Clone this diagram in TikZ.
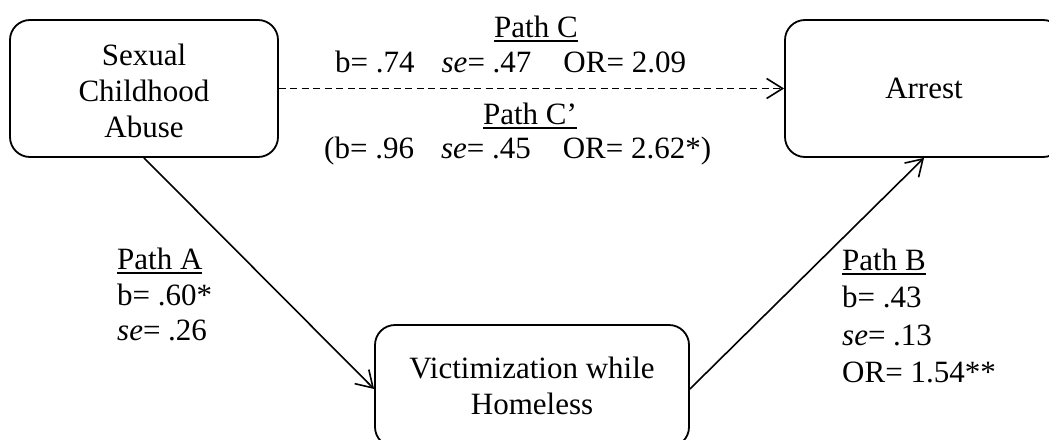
\documentclass[tikz,border=0pt]{standalone}
\usepackage{fontspec}
\setmainfont{Liberation Serif}
\usetikzlibrary{arrows.meta}
\newcommand\pathul[1]{\setbox0\hbox{#1}\rlap{\rule[-5pt]{\wd0}{1.6pt}}\box0}
\begin{document}
\begin{tikzpicture}[x=1pt,y=-1pt,
  every node/.style={font=\fontsize{31}{36}\selectfont, inner sep=0pt},
  varbox/.style={draw, line width=1.8pt, rounded corners=20pt, align=center},
  link/.style={line width=1.6pt, -{Straight Barb[length=16pt,width=20pt,line width=1.6pt]}},
  lbl/.style={anchor=base west}]
\useasboundingbox (0,0) rectangle (1049,439);
\clip (0,0) rectangle (1049,439);
\node[varbox, minimum width=268pt, minimum height=137pt] (sca) at (144,88.5) {\rule{0pt}{27pt}Sexual\\Childhood\\Abuse};
\node[varbox, minimum width=278pt, minimum height=137pt] (arr) at (924,88.5) {Arrest};
\node[varbox, minimum width=314pt, minimum height=122pt] (vic) at (532,386) {Victimization while\\Homeless};
\draw[link, dash pattern=on 7pt off 4.5pt] (sca.east) -- (arr.west);
\draw[link] (sca.south) -- ([yshift=-3pt]vic.west);
\draw[link] ([yshift=-3pt]vic.east) -- (arr.south);
\node[anchor=base] (pc) at (536,37) {\pathul{Path C}};
\node[lbl] (pcv) at (335,72) {b= .74\hspace{27pt}\textit{se}= .47\hspace{32pt}OR= 2.09};
\node[anchor=base] (pcp) at (530,124) {\pathul{Path C’}};
\node[lbl] (pcpv) at (324,158) {(b= .96\hspace{27pt}\textit{se}= .45\hspace{32pt}OR= 2.62*)};
\node[lbl] (pa) at (117,269) {\pathul{Path A}};
\node[lbl] (pab) at (117,305) {b= .60*};
\node[lbl] (pase) at (117,340) {\textit{se}= .26};
\node[lbl] (pb) at (842,270) {\pathul{Path B}};
\node[lbl] (pbb) at (842,307) {b= .43};
\node[lbl] (pbse) at (842,345) {\textit{se}= .13};
\node[lbl] (pbor) at (842,382) {OR= 1.54**};
\end{tikzpicture}
\end{document}
